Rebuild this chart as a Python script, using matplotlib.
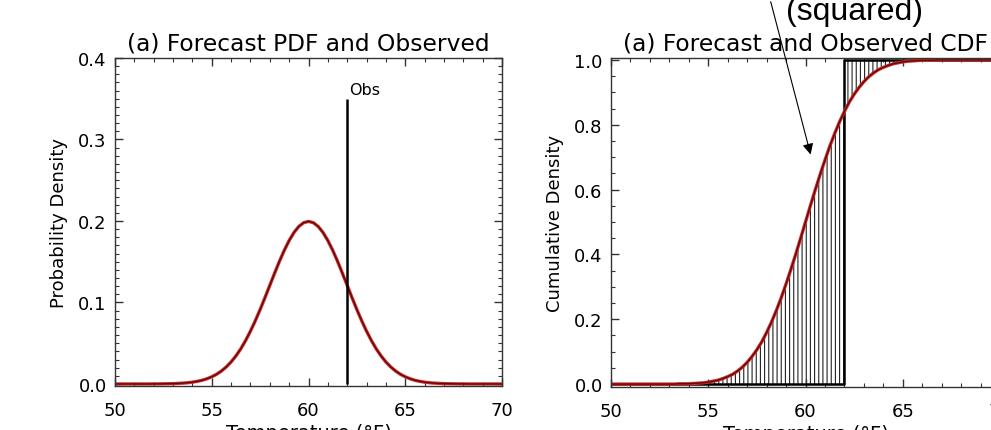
import numpy as np
import matplotlib
matplotlib.use("Agg")
import matplotlib.pyplot as plt

# 予報温度 [°F] と予報PDF / CDF（図から読み取り，0.25°F刻み）
temps = np.arange(50.0, 70.001, 0.25)
pdf_vals = [0.0000, 0.0000, 0.0000, 0.0000, 0.0000, 0.0000, 0.0000, 0.0000,
            0.0001, 0.0001, 0.0002, 0.0003, 0.0004, 0.0007, 0.0010, 0.0015,
            0.0022, 0.0032, 0.0045, 0.0064, 0.0088, 0.0119, 0.0159, 0.0209,
            0.0270, 0.0344, 0.0431, 0.0533, 0.0648, 0.0775, 0.0913, 0.1059,
            0.1210, 0.1360, 0.1506, 0.1641, 0.1760, 0.1859, 0.1933, 0.1979,
            0.1995,
            0.1979, 0.1933, 0.1859, 0.1760, 0.1641, 0.1506, 0.1360, 0.1210,
            0.1059, 0.0913, 0.0775, 0.0648, 0.0533, 0.0431, 0.0344, 0.0270,
            0.0209, 0.0159, 0.0119, 0.0088, 0.0064, 0.0045, 0.0032, 0.0022,
            0.0015, 0.0010, 0.0007, 0.0004, 0.0003, 0.0002, 0.0001, 0.0001,
            0.0000, 0.0000, 0.0000, 0.0000, 0.0000, 0.0000, 0.0000, 0.0000]
cdf_vals = [0.000, 0.000, 0.000, 0.000, 0.000, 0.000, 0.000, 0.000,
            0.000, 0.000, 0.000, 0.000, 0.000, 0.000, 0.001, 0.001,
            0.001, 0.002, 0.003, 0.004, 0.006, 0.009, 0.012, 0.017,
            0.023, 0.030, 0.040, 0.052, 0.067, 0.085, 0.106, 0.130,
            0.159, 0.191, 0.227, 0.266, 0.309, 0.354, 0.401, 0.450,
            0.500,
            0.550, 0.599, 0.646, 0.691, 0.734, 0.773, 0.809, 0.841,
            0.870, 0.894, 0.915, 0.933, 0.948, 0.960, 0.970, 0.977,
            0.983, 0.988, 0.991, 0.994, 0.996, 0.997, 0.998, 0.999,
            0.999, 0.999, 1.000, 1.000, 1.000, 1.000, 1.000, 1.000,
            1.000, 1.000, 1.000, 1.000, 1.000, 1.000, 1.000, 1.000]
obs_temp = 62.0
obs_bar_top = 0.35

pdf = np.array(pdf_vals)
cdf = np.array(cdf_vals)
obs_cdf = (temps >= obs_temp).astype(float)

plt.rcParams['font.family'] = ['DejaVu Sans']
plt.rcParams['xtick.direction'] = 'in'
plt.rcParams['ytick.direction'] = 'in'
plt.rcParams['hatch.linewidth'] = 0.8
plt.rcParams['axes.linewidth'] = 1.0

fig = plt.figure(figsize=(9.91, 4.31), dpi=100)
ax1 = fig.add_axes([115/991, 1-387/431, 387/991, 328/431])
ax2 = fig.add_axes([611/991, 1-388/431, 389/991, 329/431])

spine_col = "#333333"


def style_axes(ax, ymin, ymax, ymajor, yminor, label):
    ax.set_xlim(50, 70)
    ax.set_ylim(ymin, ymax)
    ax.set_xticks(np.arange(50, 71, 5))
    ax.set_xticks(np.arange(50, 71, 1), minor=True)
    ax.set_yticks(np.arange(0, ymax + 1e-6, ymajor))
    ax.set_yticks(np.arange(0, ymax + 1e-6, yminor), minor=True)
    ax.tick_params(which='both', top=True, right=True, colors=spine_col,
                   labelcolor='black')
    ax.tick_params(which='major', length=6, width=1.0, labelsize=13)
    ax.tick_params(which='minor', length=3, width=0.8)
    ax.tick_params(axis='x', which='major', pad=11)
    ax.tick_params(axis='y', which='major', pad=6)
    for s in ax.spines.values():
        s.set_color(spine_col)
    ax.set_xlabel("Temperature (°F)", fontsize=14, labelpad=3)
    ax.set_ylabel(label, fontsize=13, labelpad=7)
    ax.yaxis.set_major_formatter(plt.FormatStrFormatter('%.1f'))


# (a) 予報PDFと観測
style_axes(ax1, -0.0025, 0.4, 0.1, 0.01, "Probability Density")
ax1.plot(temps, pdf, color="#d42a2a", linewidth=2.4)
ax1.plot(temps, pdf, color="#5a0c0c", linewidth=1.0)
ax1.vlines(obs_temp, 0, obs_bar_top, color='black', linewidth=1.8)
ax1.text(obs_temp + 0.12, obs_bar_top + 0.002, "Obs", fontsize=11.5,
         ha='left', va='bottom')
ax1.set_title("(a) Forecast PDF and Observed", fontsize=16.8, pad=6)

# (a) 予報CDFと観測CDF
style_axes(ax2, -0.009, 1.006, 0.2, 0.05, "Cumulative Density")
lo = temps <= obs_temp
hi = temps >= obs_temp
ax2.fill_between(temps[lo], 0, cdf[lo], facecolor='none', edgecolor='#222222',
                 hatch='||||', linewidth=0)
ax2.fill_between(temps[hi], cdf[hi], 1, facecolor='none', edgecolor='#222222',
                 hatch='||||', linewidth=0)
ax2.step(temps, obs_cdf, where='post', color='black', linewidth=1.8)
ax2.plot(temps, cdf, color="#d42a2a", linewidth=2.4)
ax2.plot(temps, cdf, color="#5a0c0c", linewidth=1.0)
ax2.set_title("(a) Forecast and Observed CDF", fontsize=16.8, pad=6)

# 注釈（上部で切れている）
fig.text(855/991, 1-20/431, "(squared)", fontsize=23,
         family='Liberation Sans', ha='center', va='baseline')
ax2.annotate("", xy=(60.3, 0.70), xycoords='data',
             xytext=(770/991, 1.0), textcoords='figure fraction',
             arrowprops=dict(arrowstyle='-|>', mutation_scale=16,
                             lw=0.8, color='black'))

fig.savefig("out.png", dpi=100)
